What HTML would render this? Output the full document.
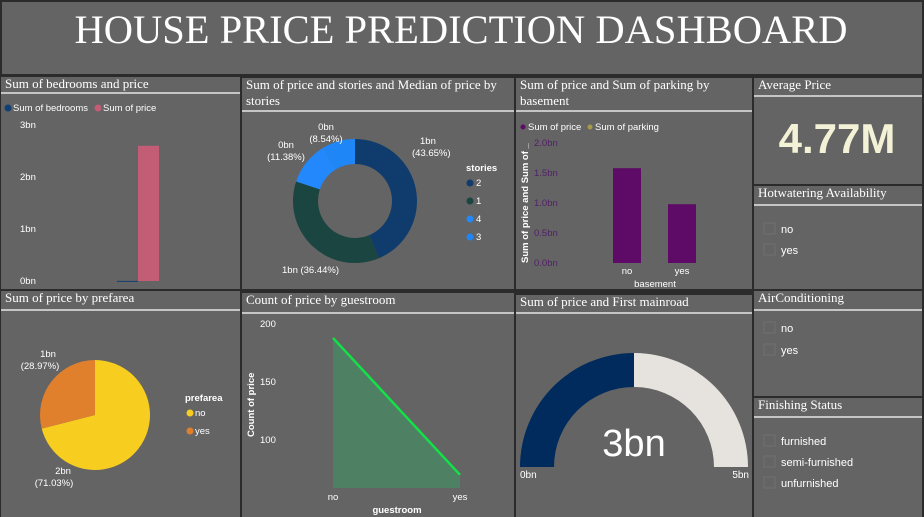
<!DOCTYPE html>
<html><head><meta charset="utf-8"><style>
html,body{margin:0;padding:0;background:#2b2b2b;width:924px;height:517px;overflow:hidden}
svg{display:block}
.t{font-family:"Liberation Serif",serif;fill:#fff;font-size:13px}
.s{font-family:"Liberation Sans","DejaVu Sans",sans-serif;fill:#fff;font-size:9.5px}
.b{font-weight:bold}
</style></head><body>
<svg id="dash" width="924" height="517">
<g id="panels"></g>
<text class="t" x="461" y="43" text-anchor="middle" style="font-size:40.5px">HOUSE PRICE PREDICTION DASHBOARD</text>
<g id="charts"></g>
</svg>
<script>
const NS='http://www.w3.org/2000/svg';
function mk(parent,tag,attrs,text){const e=document.createElementNS(NS,tag);for(const k in attrs)e.setAttribute(k,attrs[k]);if(text!==undefined)e.textContent=text;parent.appendChild(e);return e;}
const P=document.getElementById('panels'),C=document.getElementById('charts');

const panelDefs=[
 ['title-panel',2,2,920,72,[],null],
 ['bedrooms-price-panel',1,77,239,212,['Sum of bedrooms and price'],93],
 ['stories-panel',242,78,272,211,['Sum of price and stories and Median of price by','stories'],111],
 ['basement-panel',516,78,236,211,['Sum of price and Sum of parking by','basement'],111],
 ['average-price-panel',754,78,168,106,['Average Price'],96],
 ['hotwater-panel',754,186,168,103,['Hotwatering Availability'],205],
 ['prefarea-panel',1,291,239,226,['Sum of price by prefarea'],310],
 ['guestroom-panel',242,293,272,224,['Count of price by guestroom'],313],
 ['mainroad-panel',516,295,236,222,['Sum of price and First mainroad'],313],
 ['aircon-panel',754,291,168,105,['AirConditioning'],310],
 ['finishing-panel',754,398,168,119,['Finishing Status'],417]
];
panelDefs.forEach(d=>{
 const r=mk(P,'rect',{x:d[1],y:d[2],width:d[3],height:d[4],fill:'#646464'});
 
 
 d[5].forEach((ln,i)=>{const t=mk(P,'text',{class:'t',x:d[1]+4,y:d[2]+11+i*16},ln);
  
  });
 if(d[6]) mk(P,'line',{x1:d[1],x2:d[1]+d[3],y1:d[6],y2:d[6],stroke:'#fff','stroke-width':1.2});
});

// ---- Chart 1: bedrooms & price ----
const c1Series=['Sum of bedrooms','Sum of price'];
const c1Values=[0.002,2.6];
const c1Colors=['#123f73','#c25d75'];
const c1Ticks=[0,1,2,3];
const c1y=v=>281-v*52;
c1Ticks.forEach(v=>{const t=mk(C,'text',{class:'s',x:20,y:c1y(v)+3},v+'bn');});
c1Values.forEach((v,i)=>{const r=mk(C,'rect',{x:117+i*21,y:c1y(v),width:21,height:Math.max(1,c1y(0)-c1y(v)),fill:c1Colors[i]});
 
 });
[[8,'Sum of bedrooms'],[98,'Sum of price']].forEach((l,i)=>{mk(C,'circle',{cx:l[0],cy:108,r:3.5,fill:c1Colors[i]});const t=mk(C,'text',{class:'s',x:l[0]+5,y:111},l[1]);});

// ---- Chart 2: donut by stories ----
const c2Cats=['2','1','4','3'];
const c2Pct=[43.65,36.44,11.38,8.54];
const c2Labels=['1bn','1bn','0bn','0bn'];
const c2Colors=['#0f3c6c','#1a4540','#2388fb','#1f86f7'];
function arcPath(cx,cy,ro,ri,a0,a1){const p=(r,a)=>[cx+r*Math.sin(a),cy-r*Math.cos(a)];const L=(a1-a0)>Math.PI?1:0;
 const A=p(ro,a0),B=p(ro,a1),Cc=p(ri,a1),D=p(ri,a0);
 if(ri>0)return `M${A}A${ro},${ro} 0 ${L} 1 ${B}L${Cc}A${ri},${ri} 0 ${L} 0 ${D}Z`;
 return `M${cx},${cy}L${A}A${ro},${ro} 0 ${L} 1 ${B}Z`;}
let a=0;const tot2=c2Pct.reduce((s,v)=>s+v,0);
c2Pct.forEach((v,i)=>{const a1=a+v/tot2*2*Math.PI;const e=mk(C,'path',{d:arcPath(355,201,62,37,a,a1),fill:c2Colors[i]});
 
 a=a1;});
[[420,144,'1bn','(43.65%)','start'],[282,273,'1bn (36.44%)',null,'start'],[286,148,'0bn','(11.38%)','middle'],[326,130,'0bn','(8.54%)','middle']].forEach((l,i)=>{
 const t=mk(C,'text',{class:'s',x:l[0],y:l[1],'text-anchor':l[4]},l[2]);
 if(l[3])mk(C,'text',{class:'s',x:l[4]=='start'?l[0]-8:l[0],y:l[1]+12,'text-anchor':l[4]},l[3]);});
mk(C,'text',{class:'s b',x:466,y:171},'stories');
c2Cats.forEach((c,i)=>{mk(C,'circle',{cx:470,cy:183+i*18,r:3.5,fill:c2Colors[i]});const t=mk(C,'text',{class:'s',x:476,y:186+i*18},c);});

// ---- Chart 3: basement ----
const c3Cats=['no','yes'];
const c3Price=[1.58,0.98];
const c3Ticks=[0,0.5,1,1.5,2];
const c3y=v=>263-v*60;
const c3x=i=>613+i*55;
c3Ticks.forEach(v=>{const t=mk(C,'text',{class:'s',x:534,y:c3y(v)+3,style:'fill:#52206a'},v.toFixed(1)+'bn');});
c3Price.forEach((v,i)=>{const r=mk(C,'rect',{x:c3x(i),y:c3y(v),width:28,height:c3y(0)-c3y(v),fill:'#5d0b66'});
 
 
 mk(C,'text',{class:'s',x:c3x(i)+14,y:274,'text-anchor':'middle'},c3Cats[i]);});
mk(C,'text',{class:'s',x:655,y:287,'text-anchor':'middle'},'basement');
mk(C,'text',{class:'s b',x:0,y:0,transform:'translate(528,263) rotate(-90)'},'Sum of price and Sum of _');
mk(C,'circle',{cx:523,cy:127,r:2.5,fill:'#5d0b66'});mk(C,'text',{class:'s',x:528,y:130},'Sum of price');
mk(C,'circle',{cx:590,cy:127,r:2.5,fill:'#a89a4a'});mk(C,'text',{class:'s',x:595,y:130},'Sum of parking');

// ---- Average price card ----
const avg=mk(C,'text',{x:837,y:153,'text-anchor':'middle',style:'font-family:"Liberation Sans Narrow","Liberation Sans",sans-serif;font-size:42px;fill:#f3f1d6;font-weight:bold'},'4.77M');


// ---- Slicers ----
function slicer(items,x,y0,step,prefix){items.forEach((it,i)=>{const y=y0+i*step;
 const b=mk(C,'rect',{x:x,y:y-6,width:11,height:11,fill:'none',stroke:'#707070'});
 
 mk(C,'text',{class:'s',x:x+17,y:y+4,style:'font-size:11px'},it);});}
slicer(['no','yes'],764,229,21,'hotwater');
slicer(['no','yes'],764,328,22,'aircon');
slicer(['furnished','semi-furnished','unfurnished'],764,441,21,'finishing');

// ---- Chart 4: prefarea pie ----
const c4Cats=['no','yes'];
const c4Pct=[71.03,28.97];
const c4Colors=['#f7cd1f','#e07f2c'];
a=0;c4Pct.forEach((v,i)=>{const a1=a+v/100*2*Math.PI;const e=mk(C,'path',{d:arcPath(95,415,55,0,a,a1),fill:c4Colors[i]});
 a=a1;});
mk(C,'text',{class:'s',x:48,y:357,'text-anchor':'middle'},'1bn');mk(C,'text',{class:'s',x:40,y:369,'text-anchor':'middle'},'(28.97%)');
mk(C,'text',{class:'s',x:63,y:474,'text-anchor':'middle'},'2bn');mk(C,'text',{class:'s',x:54,y:486,'text-anchor':'middle'},'(71.03%)');
mk(C,'text',{class:'s b',x:185,y:401},'prefarea');
c4Cats.forEach((c,i)=>{mk(C,'circle',{cx:190,cy:413+i*18,r:3.5,fill:c4Colors[i]});const t=mk(C,'text',{class:'s',x:195,y:416+i*18},c);});

// ---- Chart 5: guestroom area ----
const c5Cats=['no','yes'];
const c5Counts=[188,70];
const c5Ticks=[100,150,200];
const c5y=v=>324+(200-v)*1.16;
const c5x=i=>333+i*127;
c5Ticks.forEach(v=>{const t=mk(C,'text',{class:'s',x:260,y:c5y(v)+3},v);});
let dA=`M${c5x(0)},488`,dL='';
c5Counts.forEach((v,i)=>{dA+=`L${c5x(i)},${c5y(v)}`;dL+=(i?'L':'M')+c5x(i)+','+c5y(v);});
dA+=`L${c5x(c5Counts.length-1)},488Z`;
const ar=mk(C,'path',{d:dA,fill:'#4e8063'});
const ln=mk(C,'path',{d:dL,fill:'none',stroke:'#12e247','stroke-width':2.5});
c5Cats.forEach((c,i)=>mk(C,'text',{class:'s',x:c5x(i),y:500,'text-anchor':'middle'},c));
mk(C,'text',{class:'s b',x:397,y:513,'text-anchor':'middle'},'guestroom');
mk(C,'text',{class:'s b',x:0,y:0,transform:'translate(254,437) rotate(-90)'},'Count of price');

// ---- Chart 6: gauge ----
const gMin=0,gMax=5,gValue=2.5;
const gf=(gValue-gMin)/(gMax-gMin);
function gArc(f0,f1){const p=(r,f)=>{const t=Math.PI*(1-f);return [634+r*Math.cos(t),467-r*Math.sin(t)];};
 const A=p(114,f0),B=p(114,f1),Cc=p(80,f1),D=p(80,f0);return `M${A}A114,114 0 0 1 ${B}L${Cc}A80,80 0 0 0 ${D}Z`;}
const g1=mk(C,'path',{d:gArc(0,gf),fill:'#002b5c'});
const g2=mk(C,'path',{d:gArc(gf,1),fill:'#e6e2de'});
const gv=mk(C,'text',{x:634,y:456,'text-anchor':'middle',style:'font-family:"Liberation Sans Narrow","Liberation Sans",sans-serif;font-size:38px;fill:#fff'},'3bn');

mk(C,'text',{class:'s',x:520,y:478,style:'font-size:10px'},gMin+'bn');
mk(C,'text',{class:'s',x:749,y:478,'text-anchor':'end',style:'font-size:10px'},gMax+'bn');
</script>
</body></html>
